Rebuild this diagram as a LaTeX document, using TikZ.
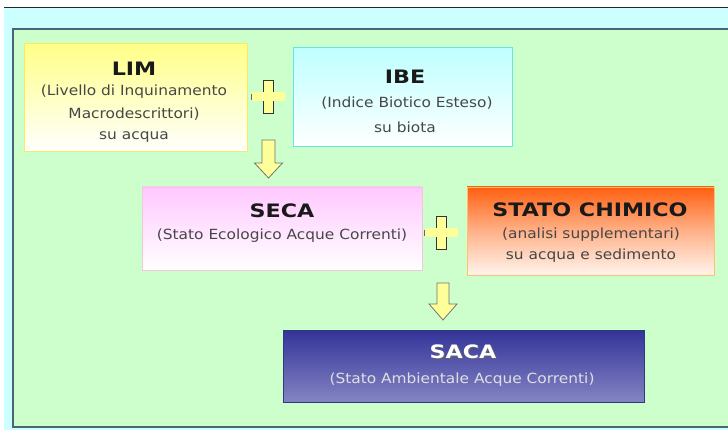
\documentclass[tikz,border=0pt]{standalone}
\usepackage{fontspec}
\setmainfont{DejaVu Sans}
\newfontfamily\titlefont{DejaVu Sans}[FakeStretch=1.2]
\newfontfamily\subfont{DejaVu Sans}[FakeStretch=1.1]
\definecolor{bgcyan}{HTML}{CCFFFF}
\definecolor{panelgreen}{HTML}{CCFFCC}
\definecolor{panelborder}{HTML}{4A6478}
\definecolor{plusyellow}{HTML}{FFFF99}
\definecolor{limtop}{HTML}{FFFF88}
\definecolor{limborder}{HTML}{FFE860}
\definecolor{ibetop}{HTML}{BFFFFF}
\definecolor{ibeborder}{HTML}{66E6E6}
\definecolor{secatop}{HTML}{FFC8FF}
\definecolor{secaborder}{HTML}{F0C8D8}
\definecolor{statotop}{HTML}{FF6010}
\definecolor{statobot}{HTML}{FFF4EC}
\definecolor{statoborder}{HTML}{FFC070}
\definecolor{sacatop}{HTML}{333399}
\definecolor{sacabot}{HTML}{8484C4}
\definecolor{sacaborder}{HTML}{2E3A80}
\tikzset{
  box/.style={rectangle, inner sep=0pt, align=center},
  ttl/.style={font=\titlefont\fontsize{18.5}{20}\selectfont\bfseries, text=black!90, inner sep=0pt},
  sub/.style={font=\subfont\fontsize{14}{16}\selectfont, text=black!72, inner sep=0pt},
  plusv/.style={fill=plusyellow, draw=black!80, line width=1pt},
  plush/.style={fill=plusyellow},
  arrowshape/.style={fill=plusyellow, draw=black!55, line width=0.8pt, line join=miter},
}
\begin{document}
\begin{tikzpicture}[x=1pt,y=-1pt]
\useasboundingbox (0,0) rectangle (728,430);
\fill[white] (0,0) rectangle (728,430);
\fill[bgcyan] (4,8) rectangle (728,430);
\draw[black!85, line width=1.2pt] (4,7.5) -- (728,7.5);
\filldraw[fill=panelgreen, draw=panelborder, line width=1.6pt] (13,29) rectangle (740,427);

% boxes
\node[box, minimum width=223pt, minimum height=108pt, top color=limtop, bottom color=white, draw=limborder, line width=1pt] (lim) at (135.5,98) {};
\node[box, minimum width=219pt, minimum height=99pt, top color=ibetop, bottom color=white, draw=ibeborder, line width=1pt] (ibe) at (402.5,97.5) {};
\node[box, minimum width=280pt, minimum height=83pt, top color=secatop, bottom color=white, draw=secaborder, line width=0.8pt] (seca) at (282,228.5) {};
\node[box, minimum width=247pt, minimum height=88pt, top color=statotop, bottom color=statobot, middle color=statotop!45!statobot, draw=statoborder, line width=0.8pt] (stato) at (590.5,231) {};
\node[box, minimum width=361pt, minimum height=72pt, top color=sacatop, bottom color=sacabot, draw=sacaborder, line width=1pt] (saca) at (463.5,366) {};

% texts
\node[ttl] (limt) at (134,69) {LIM};
\node[sub] (lims1) at (134,92) {(Livello di Inquinamento};
\node[sub] (lims2) at (134,114) {Macrodescrittori)};
\node[sub] (lims3) at (134,137) {su acqua};
\node[ttl] (ibet) at (405,77) {IBE};
\node[sub] (ibes1) at (407,103) {(Indice Biotico Esteso)};
\node[sub] (ibes2) at (405,127) {su biota};
\node[ttl] (secat) at (282,211) {SECA};
\node[sub] (secas1) at (282,236) {(Stato Ecologico Acque Correnti)};
\node[ttl] (statot) at (590,210) {STATO CHIMICO};
\node[sub] (statos1) at (591,235) {(analisi supplementari)};
\node[sub] (statos2) at (591,256) {su acqua e sedimento};
\node[ttl, text=black!60] (sacatsh) at (464.2,353.2) {SACA};
\node[ttl, text=white] (sacat) at (463,352) {SACA};
\node[sub, text=white!88!black] (sacas1) at (462,380) {(Stato Ambientale Acque Correnti)};

% plus signs
\coordinate (p1) at (268,97);
\coordinate (p2) at (441,233);
\foreach \p in {p1,p2}{
  \filldraw[plusv] ([shift={(-5,-16.5)}]\p) rectangle ([shift={(5,16.5)}]\p);
  \fill[plush] ([shift={(-16.5,-4.5)}]\p) rectangle ([shift={(16.5,4.5)}]\p);
  \draw[black!60, line width=0.8pt] ([shift={(-16.5,-3)}]\p) -- ([shift={(-16.5,3)}]\p);
}

% down arrows
\coordinate (a1) at (268.5,140);
\coordinate (a2) at (443,283);
\draw[arrowshape] ([shift={(-6.5,0)}]a1) -- ([shift={(6.5,0)}]a1) -- ([shift={(6.5,23)}]a1) -- ([shift={(14,23)}]a1) -- ([shift={(0,38)}]a1) -- ([shift={(-14,23)}]a1) -- ([shift={(-6.5,23)}]a1) -- cycle;
\draw[arrowshape] ([shift={(-6,0)}]a2) -- ([shift={(6,0)}]a2) -- ([shift={(6,21)}]a2) -- ([shift={(14,21)}]a2) -- ([shift={(0,37)}]a2) -- ([shift={(-14,21)}]a2) -- ([shift={(-6,21)}]a2) -- cycle;
\end{tikzpicture}
\end{document}
